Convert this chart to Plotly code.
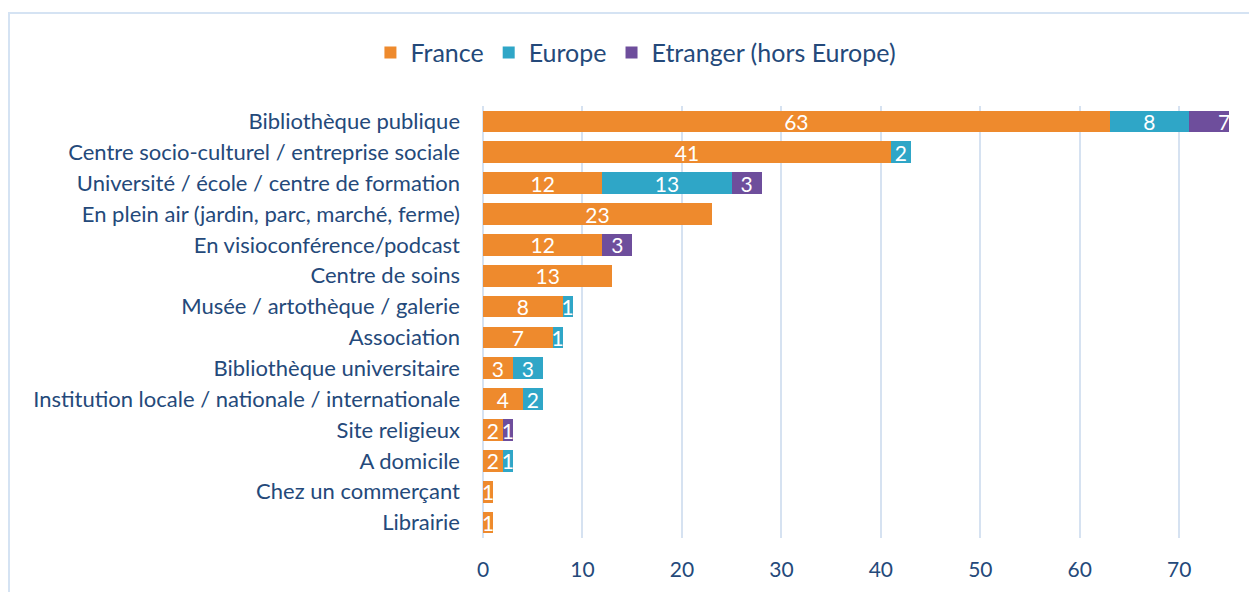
import plotly.graph_objects as go

categories = [
    "Bibliothèque publique",
    "Centre socio-culturel / entreprise sociale",
    "Université / école / centre de formation",
    "En plein air (jardin, parc, marché, ferme)",
    "En visioconférence/podcast",
    "Centre de soins",
    "Musée / artothèque / galerie",
    "Association",
    "Bibliothèque universitaire",
    "Institution locale / nationale / internationale",
    "Site religieux",
    "A domicile",
    "Chez un commerçant",
    "Librairie",
]
france = [63, 41, 12, 23, 12, 13, 8, 7, 3, 4, 2, 2, 1, 1]
europe = [8, 2, 13, None, None, None, 1, 1, 3, 2, None, 1, None, None]
etranger = [7, None, 3, None, 3, None, None, None, None, None, 1, None, None, None]

series = [
    ("France", france, "#EE8A2D"),
    ("Europe", europe, "#2FA6C7"),
    ("Etranger (hors Europe)", etranger, "#6E4E9C"),
]

FONT = "Lato"
TXT = "#24497A"

fig = go.Figure()
for name, vals, col in series:
    fig.add_trace(go.Bar(
        y=categories, x=vals, name=name, orientation="h",
        marker=dict(color=col, line=dict(width=0)),
        text=[("" if v is None else str(v)) for v in vals],
        textposition="inside", insidetextanchor="middle",
        textangle=0, constraintext="none",
        textfont=dict(color="white", size=21, family=FONT),
    ))

fig.update_layout(
    barmode="stack",
    bargap=0.3,
    width=1249, height=584,
    margin=dict(l=475, r=28, t=98, b=54, autoexpand=False),
    paper_bgcolor="white", plot_bgcolor="white",
    font=dict(family=FONT, color=TXT, size=22),
    showlegend=True,
    legend=dict(orientation="h", x=0.205, xanchor="center",
                y=1.123, yanchor="middle", font=dict(size=25, color=TXT),
                traceorder="normal", itemwidth=30),
    uniformtext=dict(mode="show", minsize=21),
)
fig.update_xaxes(range=[0, 75], dtick=10, showgrid=True, gridcolor="#D6E2F1",
                 gridwidth=1.5, zeroline=True, zerolinecolor="#D6E2F1",
                 zerolinewidth=1.5, tickfont=dict(size=21, color=TXT),
                 ticklabelstandoff=17, automargin=False, fixedrange=True)
fig.update_yaxes(autorange="reversed", showgrid=False, tickfont=dict(size=22, color=TXT),
                 ticklabelstandoff=22, showline=False, automargin=False)

fig.add_shape(type="rect", xref="paper", yref="paper",
              x0=-0.6354, x1=1.2, y0=-0.3, y1=1.2153,
              line=dict(color="#D5E3F3", width=2), layer="below")

fig.write_html("out.html")
